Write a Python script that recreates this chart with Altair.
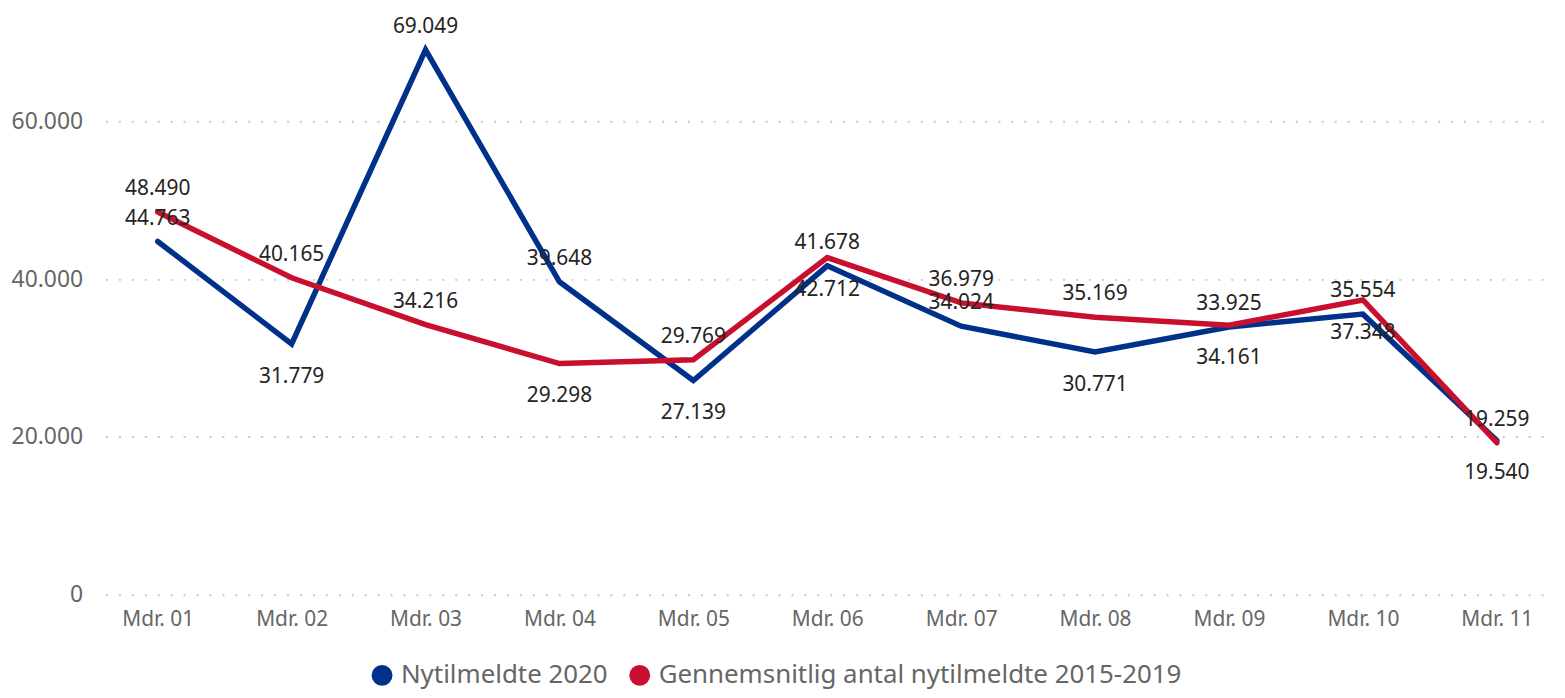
import altair as alt
import pandas as pd

months = ["Mdr. 01", "Mdr. 02", "Mdr. 03", "Mdr. 04", "Mdr. 05", "Mdr. 06",
          "Mdr. 07", "Mdr. 08", "Mdr. 09", "Mdr. 10", "Mdr. 11"]
series_names = ["Nytilmeldte 2020", "Gennemsnitlig antal nytilmeldte 2015-2019"]
nytilmeldte_2020 = [44763, 31779, 69049, 39648, 27139, 41678, 34024, 30771, 33925, 35554, 19540]
gennemsnit_2015_2019 = [48490, 40165, 34216, 29298, 29769, 42712, 36979, 35169, 34161, 37348, 19259]
label_side_2020 = ["above", "below", "above", "above", "below", "above",
                   "above", "below", "above", "above", "below"]
label_side_avg = ["above", "above", "above", "below", "above", "below",
                  "above", "above", "below", "below", "above"]
series_colors = ["#00318A", "#C8102E"]
y_ticks = [0, 20000, 40000, 60000]

df = pd.DataFrame({
    "month": months * 2,
    "series": [series_names[0]] * len(months) + [series_names[1]] * len(months),
    "value": nytilmeldte_2020 + gennemsnit_2015_2019,
    "side": label_side_2020 + label_side_avg,
})

FONT = "Noto Sans"
fmt = "replace(format(datum.value, ','), ',', '.')"

x = alt.X("month:N", sort=months,
          scale=alt.Scale(type="point", padding=0.39),
          axis=alt.Axis(title=None, labelAngle=0, labelFontSize=21, labelColor="#666666",
                        labelFont=FONT, labelPadding=14, domain=False, ticks=False,
                        tickSize=0, grid=False))
y = alt.Y("value:Q",
          scale=alt.Scale(domain=[0, 74118], nice=False, zero=True),
          axis=alt.Axis(title=None, values=y_ticks, labelExpr=fmt, labelFontSize=23,
                        labelColor="#666666", labelFont=FONT, labelPadding=23,
                        domain=False, ticks=False, tickSize=0, grid=True,
                        gridDash=[2, 11], gridColor="#c8c8c8", gridWidth=2))

color_scale = alt.Scale(domain=series_names, range=series_colors)

base = alt.Chart(df).encode(x=x, y=y)

dots = base.mark_circle(size=12, opacity=1).encode(
    fill=alt.Fill("series:N", scale=color_scale,
                  legend=alt.Legend(title=None, orient="none", legendX=265, legendY=656,
                                    direction="horizontal", symbolType="circle",
                                    symbolSize=441, symbolStrokeWidth=0,
                                    labelFontSize=26, labelColor="#666666", labelFont=FONT,
                                    labelOffset=6, columnPadding=19, labelLimit=0,
                                    padding=0, rowPadding=0))
)

stroke = alt.Stroke("series:N", scale=color_scale, legend=None)

blue_line = base.transform_filter(alt.datum.series == series_names[0]).mark_line(
    strokeWidth=5.5, strokeCap="round").encode(stroke=stroke)
red_line = base.transform_filter(alt.datum.series == series_names[1]).mark_line(
    strokeWidth=5.5, strokeCap="round").encode(stroke=stroke)

labels_above = base.transform_filter(alt.datum.side == "above").transform_calculate(
    label=fmt).mark_text(dy=-17, baseline="alphabetic", fontSize=21, color="#252423",
                         font=FONT).encode(text="label:N")
labels_below = base.transform_filter(alt.datum.side == "below").transform_calculate(
    label=fmt).mark_text(dy=39, baseline="alphabetic", fontSize=21, color="#252423",
                         font=FONT).encode(text="label:N")

chart = alt.layer(dots, blue_line, red_line, labels_above, labels_below).properties(
    width=1451, height=588,
    autosize=alt.AutoSizeParams(type="none"),
    padding={"left": 98, "top": 0, "right": 8, "bottom": 100},
    background="white",
).configure(font=FONT).configure_view(stroke=None, strokeWidth=0)

chart.save("out.html", embed_options={"renderer": "svg", "actions": False})
